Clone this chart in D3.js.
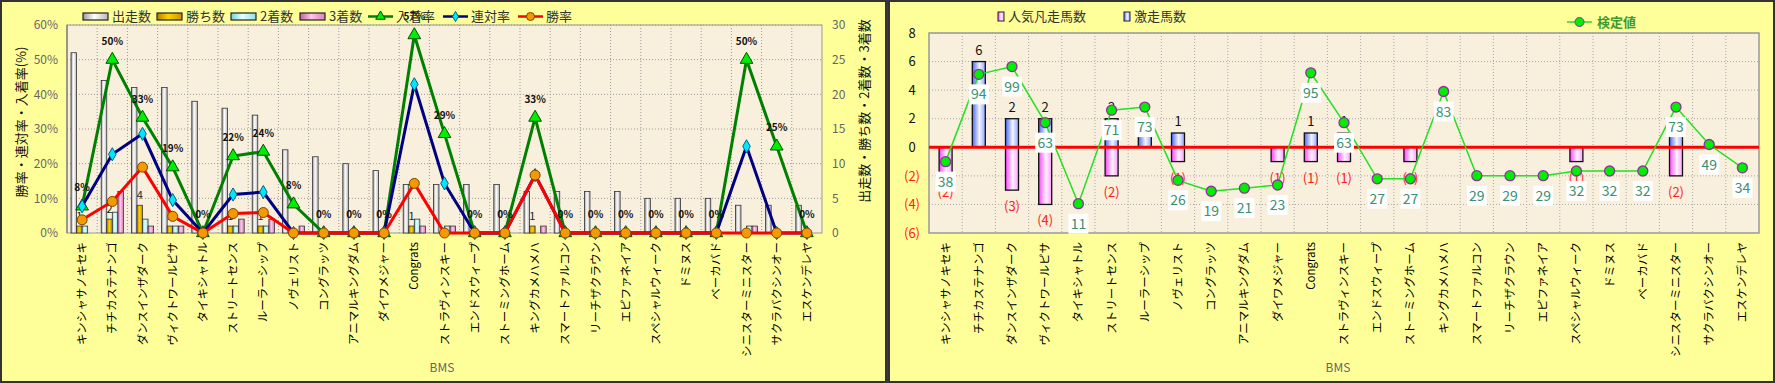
<!DOCTYPE html>
<html>
<head>
<meta charset="utf-8">
<script src="https://cdn.jsdelivr.net/npm/d3@7"></script>
<style>
body { margin: 0; background: #3a3a3a; }
svg { display: block; }
text { font-family: "Noto Sans CJK JP", "Liberation Sans", sans-serif; }
</style>
</head>
<body>
<svg width="1775" height="383"></svg>
<script>
var categories = ["キンシャサノキセキ","チチカステナンゴ","ダンスインザダーク","ヴィクトワールピサ","タイキシャトル",
  "ストリートセンス","ルーラーシップ","ノヴェリスト","コングラッツ","アニマルキングダム","ダイワメジャー","Congrats",
  "ストラヴィンスキー","エンドスウィープ","ストーミングホーム","キングカメハメハ","スマートファルコン","リーチザクラウン",
  "エピファネイア","スペシャルウィーク","ドミヌス","ベーカバド","シニスターミニスター","サクラバクシンオー","エスケンデレヤ"];

// left chart: counts
var starts  = [26,22,21,21,19,18,17,12,11,10,9,7,7,7,7,6,6,6,6,5,5,5,4,4,4];
var wins    = [1,2,4,1,0,1,1,0,0,0,0,1,0,0,0,1,0,0,0,0,0,0,0,0,0];
var seconds = [1,3,2,1,0,1,1,0,0,0,0,2,1,0,0,0,0,0,0,0,0,0,1,0,0];
var thirds  = [0,6,1,1,0,2,2,1,0,0,0,1,1,0,0,1,0,0,0,0,0,0,1,0,0];
// left chart: rates (%)
var placeRate    = [7.7,50,33.3,19,0,22.2,23.5,8.3,0,0,0,57.1,28.6,0,0,33.3,0,0,0,0,0,0,50,25,0];
var quinellaRate = [7.7,22.7,28.6,9.5,0,11.1,11.8,0,0,0,0,42.9,14.3,0,0,16.7,0,0,0,0,0,0,25,0,0];
var winRate      = [3.8,9.1,19,4.8,0,5.6,5.9,0,0,0,0,14.3,0,0,0,16.7,0,0,0,0,0,0,0,0,0];
var rateTicks = [0,10,20,30,40,50,60];
var countTicks = [0,5,10,15,20,25,30];

// right chart
var upsets = [0,6,2,2,0,2,2,1,0,0,0,1,1,0,0,0,0,0,0,0,0,0,2,0,0];
var flops  = [2,0,3,4,0,2,0,1,0,0,1,1,1,0,1,0,0,0,0,1,0,0,2,0,0];
var testVals = [38,94,99,63,11,71,73,26,19,21,23,95,63,27,27,83,29,29,29,32,32,32,73,49,34];
var rightTicks = [-6,-4,-2,0,2,4,6,8];

var svg = d3.select("svg");
var defs = svg.append("defs");

function hGrad(id, stops) {
  var g = defs.append("linearGradient").attr("id", id)
    .attr("x1", "0").attr("x2", "1").attr("y1", "0").attr("y2", "0");
  stops.forEach(function(s) { g.append("stop").attr("offset", s[0]).attr("stop-color", s[1]); });
}
hGrad("gWhite", [[0,"#9a9a9a"],[0.45,"#ffffff"],[1,"#b8b8b8"]]);
hGrad("gGold", [[0,"#b08000"],[0.45,"#ffd000"],[1,"#c89400"]]);
hGrad("gCyan", [[0,"#70d0d8"],[0.45,"#e8ffff"],[1,"#90e0e8"]]);
hGrad("gPink", [[0,"#c060a0"],[0.45,"#ffc8ec"],[1,"#d880bc"]]);
hGrad("gBlue", [[0,"#4a68ff"],[0.55,"#f4f6ff"],[1,"#90a4ff"]]);
hGrad("gMag", [[0,"#ff40ff"],[0.55,"#fff4ff"],[1,"#ff9cff"]]);

// panels
svg.append("rect").attr("x",1).attr("y",1).attr("width",885).attr("height",381)
  .attr("fill","#ffff99").attr("stroke","#333").attr("stroke-width",2);
svg.append("rect").attr("x",889).attr("y",1).attr("width",885).attr("height",381)
  .attr("fill","#ffff99").attr("stroke","#333").attr("stroke-width",2);

// ================= LEFT CHART =================
var L = {left: 67, right: 822, top: 25, bottom: 233};
var x0 = d3.scaleBand().domain(categories).range([L.left, L.right]);
var yRate = d3.scaleLinear().domain([0,60]).range([L.bottom, L.top]);
var yCount = d3.scaleLinear().domain([0,30]).range([L.bottom, L.top]);
var barKeys = ["出走数","勝ち数","2着数","3着数"];
var barData = [starts, wins, seconds, thirds];
var barFill = ["url(#gWhite)","url(#gGold)","url(#gCyan)","url(#gPink)"];
var x1 = d3.scaleBand().domain(barKeys).range([4, x0.bandwidth()-4]);

var gl = svg.append("g");
gl.append("rect").attr("x",L.left).attr("y",L.top).attr("width",L.right-L.left).attr("height",L.bottom-L.top)
  .attr("fill","#f8efdc");
gl.selectAll(".hgrid").data(rateTicks.slice(1)).enter().append("line")
  .attr("x1",L.left).attr("x2",L.right).attr("y1",d=>yRate(d)).attr("y2",d=>yRate(d))
  .attr("stroke","#999").attr("stroke-dasharray","1,2");
gl.selectAll(".vgrid").data(categories.slice(1)).enter().append("line")
  .attr("x1",d=>x0(d)).attr("x2",d=>x0(d)).attr("y1",L.top).attr("y2",L.bottom)
  .attr("stroke","#999").attr("stroke-dasharray","1,2");
gl.append("rect").attr("x",L.left).attr("y",L.top).attr("width",L.right-L.left).attr("height",L.bottom-L.top)
  .attr("fill","none").attr("stroke","#999");
gl.append("line").attr("x1",L.left).attr("x2",L.left).attr("y1",L.top).attr("y2",L.bottom).attr("stroke","#666");

// bars
barKeys.forEach(function(k, j) {
  var pts = barData[j].map(function(v, i) { return {c: categories[i], v: v}; }).filter(d => d.v > 0);
  gl.selectAll(".bar" + j).data(pts).enter().append("rect")
    .attr("x", d => x0(d.c) + x1(k))
    .attr("y", d => yCount(d.v))
    .attr("width", x1.bandwidth())
    .attr("height", d => yCount(0) - yCount(d.v))
    .attr("fill", barFill[j])
    .attr("stroke", "#333").attr("stroke-width", 0.8);
});
// win count labels
gl.selectAll(".winlab").data(wins.map((v,i)=>({c:categories[i],v:v})).filter(d=>d.v>0)).enter().append("text")
  .attr("x", d => x0(d.c) + x1("勝ち数") + x1.bandwidth()/2)
  .attr("y", d => yCount(d.v) - 6)
  .attr("text-anchor","middle").attr("font-size",11).attr("fill","#222")
  .text(d => d.v);

var cx = (d,i) => x0(categories[i]) + x0.bandwidth()/2;
var rateLine = d3.line().x(cx).y(d => yRate(d));

gl.append("path").attr("d", rateLine(placeRate)).attr("fill","none").attr("stroke","#008000").attr("stroke-width",3);
gl.selectAll(".tri").data(placeRate).enter().append("path")
  .attr("d", d3.symbol().type(d3.symbolTriangle).size(70))
  .attr("transform", (d,i) => "translate(" + cx(d,i) + "," + yRate(d) + ")")
  .attr("fill","#00ee00").attr("stroke","#005000").attr("stroke-width",1);

gl.append("path").attr("d", rateLine(quinellaRate)).attr("fill","none").attr("stroke","#000080").attr("stroke-width",3);
gl.selectAll(".dia").data(quinellaRate).enter().append("path")
  .attr("d", d3.symbol().type(d3.symbolDiamond).size(50))
  .attr("transform", (d,i) => "translate(" + cx(d,i) + "," + yRate(d) + ")")
  .attr("fill","#00e8ff").attr("stroke","#006080").attr("stroke-width",1);

gl.append("path").attr("d", rateLine(winRate)).attr("fill","none").attr("stroke","#ff0000").attr("stroke-width",3);
gl.selectAll(".cir").data(winRate).enter().append("circle")
  .attr("cx", cx).attr("cy", d => yRate(d)).attr("r", 5)
  .attr("fill","#f29a00").attr("stroke","#804000").attr("stroke-width",1);

gl.selectAll(".plab").data(placeRate).enter().append("text")
  .attr("x", cx).attr("y", d => yRate(d) - 15)
  .attr("text-anchor","middle").attr("font-size",10).attr("font-weight","bold")
  .attr("font-family","DejaVu Sans").attr("fill","#111")
  .text(d => Math.round(d) + "%");

// axes
var axL = gl.append("g").attr("transform","translate(" + L.left + ",0)")
  .call(d3.axisLeft(yRate).tickValues(rateTicks).tickFormat(d => d + "%").tickSize(0).tickPadding(9));
axL.select(".domain").remove();
axL.selectAll("text").attr("font-size",12).attr("fill","#666").attr("font-family","Liberation Sans");

var axR = gl.append("g").attr("transform","translate(" + L.right + ",0)")
  .call(d3.axisRight(yCount).tickValues(countTicks).tickSize(0).tickPadding(10));
axR.select(".domain").remove();
axR.selectAll("text").attr("font-size",12).attr("fill","#666").attr("font-family","Liberation Sans");

var axB = gl.append("g").attr("transform","translate(0," + L.bottom + ")")
  .call(d3.axisBottom(x0).tickSize(0));
axB.select(".domain").remove();
axB.selectAll("text").attr("transform","rotate(-90)").attr("x",-9).attr("y",0).attr("dy","0.35em")
  .attr("text-anchor","end").attr("font-size",11.5).attr("fill","#000")
  .attr("font-family","\"Noto Sans CJK JP\", sans-serif");

gl.append("text").attr("transform","translate(26,122) rotate(-90)").attr("text-anchor","middle")
  .attr("font-size",13).attr("fill","#111").text("勝率・連対率・入着率(%)");
gl.append("text").attr("transform","translate(869,111) rotate(-90)").attr("text-anchor","middle")
  .attr("font-size",13).attr("fill","#111").text("出走数・勝ち数・2着数・3着数");
gl.append("text").attr("x",442).attr("y",372).attr("text-anchor","middle")
  .attr("font-size",12).attr("fill","#666").attr("font-family","Liberation Sans").text("BMS");

// legend (left)
var legBars = [{k:"出走数",x:83,f:"url(#gWhite)"},{k:"勝ち数",x:157,f:"url(#gGold)"},
  {k:"2着数",x:231,f:"url(#gCyan)"},{k:"3着数",x:300,f:"url(#gPink)"}];
legBars.forEach(function(d) {
  gl.append("rect").attr("x",d.x).attr("y",13).attr("width",25).attr("height",7)
    .attr("fill",d.f).attr("stroke","#222").attr("stroke-width",1.2);
  gl.append("text").attr("x",d.x+29).attr("y",21).attr("font-size",13).attr("fill","#333").text(d.k);
});
var legLines = [{k:"入着率",x:368,c:"#008000",m:"tri"},{k:"連対率",x:443,c:"#000080",m:"dia"},{k:"勝率",x:518,c:"#ff0000",m:"cir"}];
legLines.forEach(function(d) {
  gl.append("line").attr("x1",d.x).attr("x2",d.x+25).attr("y1",16.5).attr("y2",16.5).attr("stroke",d.c).attr("stroke-width",2.5);
  if (d.m === "cir") {
    gl.append("circle").attr("cx",d.x+12.5).attr("cy",16.5).attr("r",4).attr("fill","#f29a00").attr("stroke","#804000");
  } else {
    gl.append("path").attr("d", d3.symbol().type(d.m === "tri" ? d3.symbolTriangle : d3.symbolDiamond).size(d.m === "tri" ? 40 : 30))
      .attr("transform","translate(" + (d.x+12.5) + ",16.5)")
      .attr("fill", d.m === "tri" ? "#00ee00" : "#00e8ff").attr("stroke", d.m === "tri" ? "#005000" : "#006080");
  }
  gl.append("text").attr("x",d.x+28).attr("y",21).attr("font-size",13).attr("fill","#333").text(d.k);
});

// ================= RIGHT CHART =================
var R = {left: 929, right: 1759, top: 33, bottom: 233};
var xr = d3.scaleBand().domain(categories).range([R.left, R.right]);
var yr = d3.scaleLinear().domain([-6,8]).range([R.bottom, R.top]);
var testScale = d3.scaleLinear().domain([11,99]).range([-3.95,5.65]);
var barW = 13;
var rx = (d,i) => xr(categories[i]) + xr.bandwidth()/2;

var gr = svg.append("g");
gr.append("rect").attr("x",R.left).attr("y",R.top).attr("width",R.right-R.left).attr("height",R.bottom-R.top)
  .attr("fill","#f8efdc");
gr.selectAll(".hgrid").data(rightTicks.slice(1)).enter().append("line")
  .attr("x1",R.left).attr("x2",R.right).attr("y1",d=>yr(d)).attr("y2",d=>yr(d))
  .attr("stroke","#aaa").attr("stroke-dasharray","1,2");
gr.selectAll(".vgrid").data(categories.slice(1)).enter().append("line")
  .attr("x1",d=>xr(d)).attr("x2",d=>xr(d)).attr("y1",R.top).attr("y2",R.bottom)
  .attr("stroke","#aaa").attr("stroke-dasharray","1,2");
gr.append("rect").attr("x",R.left).attr("y",R.top).attr("width",R.right-R.left).attr("height",R.bottom-R.top)
  .attr("fill","none").attr("stroke","#999").attr("stroke-width",1.5);

// bars
gr.selectAll(".up").data(upsets.map((v,i)=>({i:i,v:v})).filter(d=>d.v>0)).enter().append("rect")
  .attr("x", d => rx(d.v,d.i) - barW/2).attr("y", d => yr(d.v))
  .attr("width", barW).attr("height", d => yr(0) - yr(d.v))
  .attr("fill","url(#gBlue)").attr("stroke","#111").attr("stroke-width",1.3);
gr.selectAll(".down").data(flops.map((v,i)=>({i:i,v:v})).filter(d=>d.v>0)).enter().append("rect")
  .attr("x", d => rx(d.v,d.i) - barW/2).attr("y", yr(0))
  .attr("width", barW).attr("height", d => yr(-d.v) - yr(0))
  .attr("fill","url(#gMag)").attr("stroke","#111").attr("stroke-width",1.3);

gr.selectAll(".uplab").data(upsets.map((v,i)=>({i:i,v:v})).filter(d=>d.v>0)).enter().append("text")
  .attr("x", d => rx(d.v,d.i)).attr("y", d => yr(d.v) - 7)
  .attr("text-anchor","middle").attr("font-size",13).attr("fill","#111").attr("font-family","Liberation Sans")
  .text(d => d.v);
gr.selectAll(".downlab").data(flops.map((v,i)=>({i:i,v:v})).filter(d=>d.v>0)).enter().append("text")
  .attr("x", d => rx(d.v,d.i)).attr("y", d => yr(-d.v) + 21)
  .attr("text-anchor","middle").attr("font-size",13).attr("fill","#ff2020").attr("font-family","Liberation Sans")
  .text(d => "(" + d.v + ")");

gr.append("line").attr("x1",R.left).attr("x2",R.right).attr("y1",yr(0)).attr("y2",yr(0))
  .attr("stroke","#ff0000").attr("stroke-width",3);

var testLine = d3.line().x(rx).y(d => yr(testScale(d)));
gr.append("path").attr("d", testLine(testVals)).attr("fill","none").attr("stroke","#22e022").attr("stroke-width",1.5);
gr.selectAll(".tpt").data(testVals).enter().append("circle")
  .attr("cx", rx).attr("cy", d => yr(testScale(d))).attr("r",5)
  .attr("fill","#00ee00").attr("stroke","#9030a0").attr("stroke-width",1.3);
var tl = gr.selectAll(".tlab").data(testVals).enter().append("g")
  .attr("transform", (d,i) => "translate(" + rx(d,i) + "," + (yr(testScale(d)) + 20) + ")");
tl.append("rect").attr("x",-10).attr("y",-10).attr("width",20).attr("height",20).attr("fill","#fff");
tl.append("text").attr("text-anchor","middle").attr("dy","0.36em").attr("font-size",14)
  .attr("fill","#3a9070").attr("font-family","Liberation Sans").text(d => d);

// axes
var axR2 = gr.append("g").attr("transform","translate(" + R.left + ",0)")
  .call(d3.axisLeft(yr).tickValues(rightTicks).tickSize(0).tickPadding(13)
    .tickFormat(d => d < 0 ? "(" + (-d) + ")" : d));
axR2.select(".domain").remove();
axR2.selectAll("text").attr("text-anchor","middle").attr("x",-17).attr("font-size",13)
  .attr("font-family","Liberation Sans").attr("fill", d => d < 0 ? "#ff2020" : "#111");

var axB2 = gr.append("g").attr("transform","translate(0," + R.bottom + ")")
  .call(d3.axisBottom(xr).tickSize(0));
axB2.select(".domain").remove();
axB2.selectAll("text").attr("transform","rotate(-90)").attr("x",-9).attr("y",0).attr("dy","0.35em")
  .attr("text-anchor","end").attr("font-size",11.5).attr("fill","#000")
  .attr("font-family","\"Noto Sans CJK JP\", sans-serif");
gr.append("text").attr("x",1338).attr("y",372).attr("text-anchor","middle")
  .attr("font-size",12).attr("fill","#666").attr("font-family","Liberation Sans").text("BMS");

// legend (right)
gr.append("rect").attr("x",998).attr("y",12).attr("width",6).attr("height",9).attr("fill","url(#gMag)").attr("stroke","#222");
gr.append("text").attr("x",1008).attr("y",21).attr("font-size",13).attr("fill","#333").text("人気凡走馬数");
gr.append("rect").attr("x",1124).attr("y",12).attr("width",6).attr("height",9).attr("fill","url(#gBlue)").attr("stroke","#222");
gr.append("text").attr("x",1134).attr("y",21).attr("font-size",13).attr("fill","#333").text("激走馬数");
gr.append("line").attr("x1",1567).attr("x2",1592).attr("y1",22).attr("y2",22).attr("stroke","#22e022").attr("stroke-width",1.5);
gr.append("circle").attr("cx",1579.5).attr("cy",22).attr("r",4.5).attr("fill","#00ee00").attr("stroke","#9030a0");
gr.append("text").attr("x",1597).attr("y",27).attr("font-size",13).attr("font-weight","bold").attr("fill","#3c9a30").text("検定値");
</script>
</body>
</html>
